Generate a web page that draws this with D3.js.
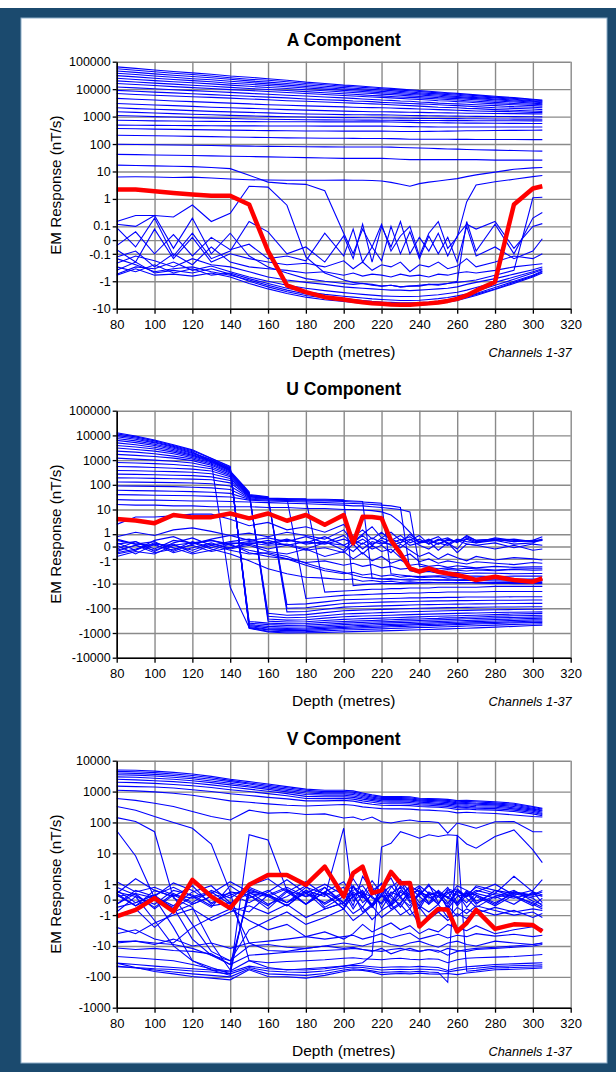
<!DOCTYPE html>
<html>
<head>
<meta charset="utf-8">
<script src="https://cdn.jsdelivr.net/npm/d3@7"></script>
<style>
  body { margin: 0; background: #fff; }
  svg { display: block; font-family: "Liberation Sans", Arial, sans-serif; }
</style>
</head>
<body>
<div id="chart"></div>
<script>
// Depth stations (metres), shared by all three components
const depths = [80,90,100,110,120,130,140, 150,160,170,180,190,200, 205,210,215,220,225,230,235,240,245, 250,255,260,265,270,280,290,300,305];
const xTicks = [80,100,120,140,160,180,200,220,240,260,280,300,320];

const aTicks = [100000,10000,1000,100,10,1,0.1,0,-0.1,-1,-10];
const uTicks = [100000,10000,1000,100,10,1,0,-1,-10,-100,-1000,-10000];
const vTicks = [10000,1000,100,10,1,0,-1,-10,-100,-1000];

// A component, channels 1-37 (nT/s)
const aChannels = [
  [65000,57000,50000,44000,39000,35000,30000, 27000,24000,21000,18000,16000,14000, 13500,12800,12000,11300,10700,10000,9400,8900,8400, 7900,7400,7000,6600,6200,5500,4900,4300,4000],
  [55000,49000,43000,38000,34000,30000,26000, 23000,21000,18500,16000,14500,12800, 12200,11600,11000,10400,9800,9200,8700,8200,7800, 7300,6900,6500,6100,5800,5100,4600,4100,3800],
  [46000,41000,36000,32000,29000,26000,23000, 20000,18000,16000,14200,12800,11400, 10800,10300,9800,9300,8800,8300,7900,7400,7000, 6700,6300,6000,5600,5300,4800,4300,3800,3600],
  [38000,34000,30000,27000,24000,22000,19500, 17500,15500,14000,12500,11200,10100, 9600,9200,8700,8300,7900,7500,7100,6700,6400, 6100,5700,5400,5100,4900,4400,4000,3600,3400],
  [31000,28000,25000,22500,20500,18500,16500, 15000,13500,12200,11000,10000,9000, 8600,8200,7800,7400,7100,6700,6400,6100,5800, 5500,5200,5000,4700,4500,4100,3700,3400,3200],
  [25000,22500,20500,18500,17000,15500,14000, 12700,11500,10500,9500,8700,7900, 7500,7200,6900,6600,6300,6000,5700,5400,5200, 4900,4700,4500,4300,4100,3700,3400,3100,2900],
  [20000,18200,16600,15200,13900,12700,11600, 10600,9700,8900,8100,7400,6800, 6500,6200,5900,5700,5400,5200,5000,4800,4600, 4400,4200,4000,3800,3600,3300,3000,2800,2700],
  [16000,14700,13500,12400,11400,10500,9600, 8900,8200,7500,6900,6400,5900, 5600,5400,5200,5000,4800,4600,4400,4200,4000, 3800,3700,3500,3400,3200,2900,2700,2500,2400],
  [12000,11100,10300,9500,8800,8200,7600, 7000,6500,6000,5600,5200,4800, 4600,4400,4200,4000,3900,3700,3600,3400,3300, 3100,3000,2900,2800,2700,2500,2300,2200,2100],
  [9000,8400,7800,7300,6800,6300,5900, 5500,5100,4800,4400,4100,3900, 3700,3600,3500,3300,3200,3100,3000,2900,2800, 2700,2600,2500,2400,2300,2100,2000,1900,1800],
  [6900,6400,6000,5600,5300,5000,4700, 4400,4100,3800,3600,3400,3200, 3100,3000,2900,2800,2700,2600,2500,2400,2300, 2200,2150,2100,2000,1950,1800,1700,1600,1550],
  [4600,4300,4000,3700,3500,3300,3100, 2900,2700,2600,2450,2350,2250, 2200,2150,2120,2100,2050,2000,1950,1900,1850, 1800,1750,1700,1650,1600,1550,1500,1420,1400],
  [3000,2800,2650,2500,2350,2200,2100, 2000,1900,1800,1720,1650,1580, 1550,1530,1510,1500,1480,1460,1440,1420,1400, 1380,1360,1350,1330,1320,1300,1280,1260,1250],
  [2100,1950,1850,1750,1650,1550,1480, 1420,1360,1300,1250,1210,1180, 1170,1160,1155,1150,1140,1120,1100,1080,1070, 1060,1050,1040,1030,1020,1010,1000,985,980],
  [1500,1420,1350,1280,1220,1160,1110, 1060,1020,990,960,940,920, 915,910,905,900,890,880,870,860,855, 850,845,840,835,830,820,810,805,800],
  [1100,1050,1000,960,920,880,850, 820,800,780,770,760,750, 748,745,742,740,735,730,725,720,718, 716,714,712,710,708,705,702,700,700],
  [740,720,700,690,680,670,660, 655,650,648,646,644,642, 641,640,640,640,635,625,615,605,600, 595,590,585,580,577,572,566,562,560],
  [490,485,480,475,470,465,460, 458,456,454,452,451,450, 450,450,450,450,445,438,430,425,422, 420,418,418,418,418,418,419,420,420],
  [370,360,350,342,335,328,320, 314,308,303,299,297,296, 295,295,295,295,292,288,286,288,290, 293,296,300,303,306,310,315,318,320],
  [210,205,200,195,190,186,180, 176,172,168,165,163,162, 161,160,160,160,158,154,150,150,150, 150,149,148,148,147,146,146,145,145],
  [98,96,94,92,90,88,86, 84,82,81,80,79,78, 78,78,78,78,77,75,73,72,70, 68,66,65,63,62,60,58,56,55],
  [42,41,40,39,38,37,36, 35,34,33,32,31,30, 30,30,30,30,29,28,27,27,27, 27,27,27,27,27,26,26,26,26],
  [17,16.5,16,15.5,15,14,12.7, 7.3,4.1,3.6,3.4,2.0,0.05, -0.1,0.08,-0.05,0.12,-0.08,0.03,0.1,-0.12,0.05, 0.15,-0.06,0.02,0.78,3.2,4.2,5.2,6.5,7.1],
  [6.3,6.4,6.3,6.0,6.2,5.8,5.3, 5.0,4.9,4.8,4.8,4.8,4.9, 4.8,4.8,4.7,4.5,4.0,3.4,2.9,3.6,4.1, 4.5,5.0,5.5,6.5,7.5,9.5,12,13.5,14],
  [2.2,2.2,1.9,1.65,1.45,1.3,1.3, 0.63,-0.08,-1.4,-2.5,-3.8,-4.6, -5.2,-5.8,-6.3,-6.6,-7.0,-7.2,-7.2,-6.8,-6.4, -5.9,-5.2,-4.4,-3.3,-2.2,-1.05,0.63,2.4,2.9],
  [0.15,0.25,0.25,0.22,0.6,0.15,0.3, 2.9,2.7,0.59,-0.13,-0.5,-0.9, -1.1,-1.2,-1.3,-1.5,-1.4,-1.6,-1.5,-1.5,-1.3, -1.4,-1.2,-1.1,-1.0,-0.9,-0.6,-0.4,1.1,1.15],
  [0.12,0.1,0.25,-0.06,0.2,-0.1,0.05, -0.12,-0.3,-0.5,-0.8,-1.0,-1.2, -1.3,-1.2,-1.4,-1.5,-1.4,-1.6,-1.5,-1.4,-1.3, -1.3,-1.2,-1.0,0.15,-0.08,0.12,-0.1,0.2,0.32],
  [0.09,-0.05,0.2,-0.12,0.05,-0.15,-0.08, 0.15,0.06,-0.1,-0.05,-0.2,0.03, -0.15,0.12,-0.2,0.1,-0.05,0.15,-0.1,0.02,-0.08, 0.05,-0.12,0.03,0.12,0.08,0.15,-0.06,0.1,0.126],
  [-0.04,0.06,-0.1,0.04,-0.12,0.02,-0.07, -0.03,-0.15,-0.12,-0.18,0.05,-0.12, 0.08,-0.2,-0.05,-0.18,0.1,-0.1,0.06,-0.15,0.03, -0.1,0.02,-0.2,0.1,-0.12,-0.05,-0.15,-0.08,0.01],
  [-0.07,-0.2,0.08,-0.15,0.02,-0.2,-0.1, -0.15,-0.2,-0.25,-0.22,-0.3,-0.18, -0.35,-0.2,-0.4,-0.25,-0.3,-0.2,-0.45,-0.25,-0.3, -0.2,-0.35,-0.28,-0.15,-0.3,-0.2,-0.12,-0.15,-0.1],
  [-0.13,-0.08,-0.3,-0.1,-0.25,-0.05,-0.2, -0.3,-0.35,-0.4,-0.5,-0.45,-0.6, -0.5,-0.65,-0.55,-0.6,-0.7,-0.55,-0.65,-0.6,-0.7, -0.55,-0.6,-0.5,-0.45,-0.5,-0.4,-0.3,-0.25,-0.23],
  [-0.22,-0.12,-0.18,-0.3,-0.15,-0.25,-0.3, -0.45,-0.7,-0.9,-1.1,-1.3,-1.6, -1.7,-1.8,-1.9,-2.0,-2.1,-2.1,-2.2,-2.1,-2.0, -1.9,-1.8,-1.6,-1.3,-1.1,-0.8,-0.55,-0.38,-0.3],
  [-0.56,-0.3,-0.35,-0.2,-0.4,-0.28,-0.45, -0.7,-1.0,-1.4,-1.8,-2.2,-2.6, -2.8,-3.0,-3.2,-3.4,-3.5,-3.6,-3.6,-3.5,-3.3, -3.1,-2.8,-2.5,-2.1,-1.7,-1.1,-0.7,-0.45,-0.35],
  [-0.3,-0.45,-0.25,-0.5,-0.35,-0.6,-0.5, -0.8,-1.2,-1.8,-2.4,-3.0,-3.5, -3.8,-4.1,-4.4,-4.6,-4.8,-5.0,-5.0,-4.9,-4.6, -4.3,-3.9,-3.4,-2.9,-2.3,-1.4,-0.85,-0.5,-0.38],
  [-0.15,-0.25,-0.45,-0.35,-0.3,-0.45,-0.6, -0.9,-1.4,-2.1,-2.9,-3.6,-4.3, -4.6,-5.0,-5.4,-5.7,-5.9,-6.1,-6.1,-6.0,-5.7, -5.3,-4.8,-4.2,-3.5,-2.8,-1.7,-1.0,-0.6,-0.42],
  [-0.4,-0.2,-0.5,-0.4,-0.5,-0.35,-0.55, -1.0,-1.6,-2.4,-3.3,-4.1,-4.9, -5.3,-5.7,-6.0,-6.3,-6.6,-6.8,-6.8,-6.6,-6.3, -5.8,-5.2,-4.6,-3.8,-3.0,-1.9,-1.1,-0.65,-0.45],
  [-0.6,-0.35,-0.6,-0.55,-0.65,-0.5,-0.7, -1.2,-1.9,-2.8,-3.8,-4.7,-5.5, -5.9,-6.3,-6.7,-7.0,-7.4,-7.6,-7.6,-7.4,-7.0, -6.5,-5.8,-5.0,-4.1,-3.3,-2.0,-1.2,-0.7,-0.5]
];

// U component, channels 1-37 (nT/s)
const uChannels = [
  [12800,9500,6500,4200,2600,1200,560, -650,-900,-1000,-980,-950,-900, -880,-860,-840,-820,-800,-780,-760,-740,-720, -700,-680,-660,-640,-620,-580,-540,-500,-480],
  [11500,8700,6000,3900,2400,1150,520, -620,-850,-900,-880,-820,-760, -740,-720,-700,-680,-660,-640,-620,-600,-590, -570,-560,-540,-520,-510,-480,-450,-430,-420],
  [10000,7800,5400,3600,2200,850,-14, -600,-750,-800,-780,-720,-660, -640,-620,-600,-580,-560,-550,-530,-520,-500, -490,-470,-460,-450,-430,-410,-390,-375,-370],
  [8800,7000,5000,3300,2000,1050,480, -550,-700,-720,-700,-650,-590, -570,-550,-530,-520,-500,-490,-470,-460,-450, -440,-420,-410,-400,-390,-370,-350,-335,-330],
  [7500,6000,4400,3000,1850,1000,450, -500,-620,-650,-630,-580,-530, -510,-490,-475,-460,-450,-440,-425,-410,-400, -390,-375,-365,-355,-345,-325,-310,-295,-290],
  [6300,5100,3900,2700,1700,950,420, -450,-540,-570,-560,-510,-460, -445,-430,-415,-400,-390,-380,-370,-360,-350, -340,-330,-320,-310,-300,-285,-270,-255,-250],
  [5000,4200,3300,2400,1550,900,400, -400,-460,-490,-480,-440,-400, -385,-370,-360,-350,-340,-330,-320,-310,-300, -295,-285,-275,-265,-260,-245,-235,-225,-220],
  [3900,3400,2800,2100,1400,850,380, -340,-400,-420,-410,-370,-340, -330,-320,-310,-300,-290,-280,-275,-270,-260, -255,-245,-240,-230,-225,-210,-200,-195,-190],
  [3100,2700,2300,1800,1250,780,360, 52,-330,-360,-350,-310,-280, -270,-262,-255,-250,-242,-235,-228,-222,-216, -210,-205,-200,-195,-190,-180,-170,-165,-160],
  [2300,2100,1800,1450,1100,700,330, 48,-270,-300,-290,-250,-220, -213,-206,-200,-195,-190,-185,-180,-176,-172, -168,-164,-160,-157,-154,-148,-144,-141,-140],
  [1700,1550,1400,1200,950,620,300, 45,-210,-240,-230,-200,-170, -165,-160,-155,-150,-146,-142,-138,-135,-132, -129,-126,-123,-121,-119,-115,-112,-110,-110],
  [1200,1100,1000,900,760,530,270, 42,-160,-190,-180,-150,-125, -121,-117,-114,-111,-108,-105,-102,-100,-98, -96,-94,-93,-92,-91,-89,-88,-87,-87],
  [800,760,720,660,580,450,240, 40,33,-140,-135,-110,-90, -87,-84,-82,-80,-78,-76,-74,-72,-71, -70,-69,-68,-67,-66,-65,-64,-63,-63],
  [550,530,500,470,430,360,210, 38,31,-100,-95,-78,-64, -62,-60,-58,-56,-55,-54,-53,-52,-51, -50,-50,-49,-49,-48,-47,-47,-46,-46],
  [380,370,355,340,320,280,180, 36,30,-70,-66,-55,-45, -44,-43,-42,-41,-40,-39,-38,-38,-37, -37,-36,-36,-35,-35,-35,-34,-34,-34],
  [270,265,255,245,235,210,150, 34,29,28,-40,-35,-30, -29,-28,-27,-26,-25,-25,-24,-24,-23, -23,-22,-22,-22,-22,-21,-21,-21,-21],
  [190,188,182,176,170,160,120, 32,28,27,27,-22,-20, -19,-18,-17,-17,-16,-16,-15,-15,-15, -14,-14,-14,-14,-14,-13,-13,-13,-13],
  [130,128,125,122,118,110,90, 30,28,27,26,26,25, -12,-11,-10.5,-10,-10,-10,-9.8,-9.6,-9.4, -9.3,-9.2,-9.1,-9,-9,-9,-9,-9,-9],
  [90,88,86,84,80,75,65, 28,26,25,24,24,23, 22,21,-6,-6.5,-7,-7,-7.2,-7,-6.8, -7,-7.2,-7,-6.9,-7,-7,-7,-7,-7],
  [60,58,57,55,53,50,45, 26,24,23,22,22,21, 20,20,19,18,-4,-4.5,-5,-5.2,-5, -4.8,-5,-5.3,-5,-5,-5.2,-5,-5,-5],
  [40,39,38,37,36,34,32, 24,22,21,20,19,18, 17.5,17,16,15,14,12,-3,-3.5,-3.2, -3.8,-3.5,-3.6,-3.9,-3.7,-3.8,-4,-3.9,-3.9],
  [25,24,24,23,22,22,21, 20,19,18,17,16,15, 14,14,13,12,11,10,8,-2,-2.2, -2.5,-2.3,-2.6,-2.4,-2.5,-2.8,-2.6,-2.5,-2.5],
  [16,15,15,14,14,13,13, 13,12,12,11,11,10, 10,9.5,9,8,6,3,1.2,0.3,0.5, 0.2,0.6,0.4,0.8,0.5,0.6,0.4,0.5,0.5],
  [4.1,3.6,2.8,6,4.8,4.9,6.9, 4.4,6.9,3.5,6,2.4,6, 0.26,5.1,5,4.4,0.5,-0.55,-2.4,-3.3,-2.4, -3.3,-3.9,-4.5,-5.5,-7.2,-5.3,-7.2,-8.4,-6.2],
  [2.5,5,5,5.5,6.5,6.5,4, 2.2,3,1.5,2,1.2,2.5, 0.8,1.5,0.6,1.2,0.5,0.9,0.3,0.6,0.2, 0.5,0.7,0.3,0.9,0.5,0.6,0.4,0.5,0.8],
  [0.8,1.2,0.9,1.5,1.8,1.3,0.9, 1.1,0.8,1.2,0.9,0.6,1.5, 0.4,1.0,2.0,0.7,1.2,0.5,0.8,0.3,0.6, 0.2,0.5,0.4,0.6,0.3,0.5,0.6,0.4,0.5],
  [0.3,-0.3,0.5,0.8,0.2,0.6,0.9, 0.5,0.7,0.4,0.8,0.3,0.9, 0.2,0.6,0.1,0.7,0.4,-0.1,0.5,0.9,0.2, 0.6,0.3,-0.2,0.7,0.4,0.5,0.2,0.3,0.6],
  [-0.2,0.4,-0.4,0.3,0.7,0.1,0.4, 0.6,0.2,0.5,0.3,0.8,0.1, 0.5,-0.2,0.4,0.2,0.6,0.3,1.0,0.4,0.5, 0.8,0.2,0.6,0.4,0.3,0.7,0.5,0.4,0.6],
  [0.5,0.2,0.1,-0.3,0.4,-0.1,0.3, 0.2,0.5,0.1,0.4,0.2,0.6, 0.3,0.9,0.2,0.5,0.1,0.3,0.6,0.1,-0.2, 0.3,0.1,0.5,0.2,0.1,0.3,-0.1,0.2,0.1],
  [-0.5,-0.2,0.2,0.1,0.3,0.5,0.2, 0.4,0.3,0.6,0.2,0.4,-0.3, 0.5,0.2,0.7,0.3,0.2,0.6,0.1,0.3,0.4, -0.3,0.3,-0.5,0.2,0.1,-0.2,0.1,-0.3,-0.2],
  [-0.8,-0.4,-0.6,0.1,-0.3,0.2,-0.1, 0.3,0.1,0.2,-0.2,0.3,0.1, -0.4,0.3,-0.2,0.1,-0.5,0.2,-0.3,-0.8,-0.5, -1.0,-0.6,-0.9,-1.2,-0.8,-1.1,-0.9,-1.0,-1.1],
  [-0.3,0.1,-0.5,-0.2,0.1,-0.4,-0.1, 0.2,-0.2,0.1,-0.3,-0.1,-0.5, 0.2,-0.6,0.1,-0.4,-0.2,-0.9,-0.6,-1.3,-1.0, -1.5,-1.2,-1.4,-1.6,-1.3,-1.5,-1.7,-1.4,-1.5],
  [0.1,-0.6,0.2,-0.5,-0.1,0.3,-0.2, 0.1,-0.4,-0.6,-0.2,-0.8,-0.4, -1.0,-0.5,-1.2,-0.8,-1.5,-1.1,-1.8,-1.6,-2.0, -1.8,-2.2,-1.9,-2.1,-2.3,-2.0,-2.2,-2.1,-2.1],
  [-0.6,-0.3,0.3,-0.1,-0.6,-0.3,0.2, -0.5,-0.8,-1.0,-1.4,-1.2,-1.8, -1.5,-2.0,-1.7,-2.3,-2.0,-2.6,-2.4,-2.8,-2.5, -3.0,-2.7,-2.9,-3.1,-2.8,-3.0,-2.7,-2.9,-2.8],
  [0.2,0.4,-0.2,0.5,0.3,-0.2,-0.6, -1.2,-2.5,-4,-5.5,-6,-7, -6.5,-8,-7.5,-8.5,-8,-9,-8.5,-9,-8.8, -9.2,-9,-9.5,-9.3,-9.6,-9.8,-10,-10,-10],
  [-0.4,0.1,-0.3,0.2,-0.5,0.1,-0.3, -0.6,-0.5,-0.8,-1.5,-2.5,-3.5, -4.5,-5.5,-6,-6.5,-6.2,-6.8,-6.5,-7,-6.8, -7.2,-7,-7.4,-7.2,-7.5,-7.8,-8,-8,-8],
  [0.6,0.2,0.4,-0.4,0.2,0.5,0.1, -0.3,-0.6,-1.0,-1.8,-3,-4, -3.5,-4.5,-4,-5,-4.5,-5.5,-5,-5.8,-5.5, -5.2,-6,-5.6,-5.8,-6,-6.2,-6.5,-6.5,-6.5]
];

// V component, channels 1-37 (nT/s)
const vChannels = [
  [5000,4900,4600,4200,3700,3100,2500, 2100,1750,1450,1200,1100,1100, 1050,900,780,700,690,690,680,610,600, 580,560,510,520,500,470,420,330,290],
  [4500,4400,4100,3700,3300,2800,2300, 1900,1600,1330,1100,1000,1000, 960,830,720,650,640,640,630,570,560, 540,520,470,480,460,430,390,310,270],
  [4000,3900,3600,3300,2900,2500,2100, 1750,1450,1200,1000,920,920, 880,760,660,600,590,590,580,530,520, 500,480,430,440,420,400,360,290,250],
  [3500,3400,3200,2900,2600,2200,1850, 1550,1300,1080,900,840,840, 800,690,610,560,550,550,540,490,480, 460,440,400,410,390,370,330,270,235],
  [3000,2900,2700,2500,2250,1950,1650, 1400,1180,980,800,760,760, 720,630,560,510,500,500,490,450,440, 420,400,365,375,355,340,300,250,215],
  [2500,2400,2250,2100,1900,1650,1400, 1200,1020,860,700,680,680, 650,570,510,460,455,455,445,410,400, 385,365,330,340,320,310,275,230,195],
  [2000,1950,1850,1700,1550,1350,1150, 1000,860,730,600,590,600, 570,500,450,410,405,405,395,370,360, 345,330,300,305,290,280,250,210,180],
  [1500,1450,1400,1300,1150,1000,850, 750,650,580,500,500,520, 490,430,390,360,355,355,350,330,320, 310,295,265,275,260,250,225,190,165],
  [1100,1050,980,880,760,620,500, 450,400,360,340,360,380, 360,320,300,280,275,275,270,255,250, 240,230,205,215,205,195,175,155,150],
  [600,520,420,330,225,155,120, 250,200,210,180,190,140, 150,120,150,105,96,110,120,107,107, 100,45,96,80,65,105,107,50,50],
  [330,250,155,100,65,20,0.5, -30,-50,-60,-55,-50,-45, -40,-35,-20,16,21,50,40,31,40, 35,40,38,20,14.6,35,57,13,5],
  [143,107,50,0.1,-0.5,-8,-60, 0.5,0.3,-0.2,0.8,0.4,-0.6, 0.9,0.2,-0.4,0.6,0.1,-0.3,0.7,-0.2,0.3, 0.5,-0.6,0.2,0.4,-0.3,0.6,0.2,-0.4,0.1],
  [54,8.2,0.1,-2.5,-30,-60,-90, 40,27,0.6,-0.3,0.5,-0.2, 0.8,0.3,-0.5,0.4,0.9,0.1,-0.4,0.5,0.2, -0.3,0.6,0.3,-0.2,0.4,0.1,0.5,0.3,0.6],
  [-36,-50,-67,-80,-98,-110,-125, -59,-98,-100,-110,-90,-67, -60,-62,-70,-85,-80,-78,-80,-76,-80, -82,-78,-85,-75,-70,-59,-57,-54,-52],
  [-45,-52,-60,-70,-80,-90,-100, -55,-80,-85,-90,-78,-60, -55,-58,-64,-72,-70,-68,-70,-66,-70, -72,-150,40,-66,-62,-52,-50,-48,-47],
  [-47,-50,-55,-58,-65,-70,-80, -50,-65,-70,-72,-65,-52, -48,-50,-55,-60,-58,-57,-58,-56,-58, -60,-70,-62,-56,-53,-46,-44,-42,-41],
  [-36,-40,-45,-50,-55,-60,-70, -45,-55,-58,-60,-55,-45, -42,-44,-47,-50,-48,-47,-48,-46,-48, -50,-62,-52,-47,-45,-40,-38,-36,-35],
  [-22,-24,-27,-30,-40,-55,-65, -30,-35,-32,-30,-28,-25, -24,-26,-27,-28,-26,-25,-27,-28,-26, -27,-35,-28,-25,-24,-23,-22,-20,-19],
  [-11.7,-13,-12,-14,-15,-18,-40, -20,-18,-16,-15,-14,-13, -12,-13,-14,-15,-13,-12,-14,-15,-13, -14,-20,-15,-13,-12,-11,-10,-9,-8],
  [-7.2,-7,-8,-9,-12,-20,-30, -10,-9,-11,-12,-10,-8, -9,-10,-8,-7,-9,-10,-8,-7,-9, -11,-8,-7,-9,-10,-7,-8,-9,-8],
  [-1.1,-0.66,0.1,-0.77,1.38,0.2,-0.55, 0.96,2.0,2.0,0.96,3.7,0.2, 2.3,3.7,0.42,0.6,2.5,1.07,1.1,-2.35,-1.2, -0.6,-0.66,-3.4,-1.8,-0.66,-2.8,-2.0,-2.1,-3.4],
  [0.8,0.3,-0.5,0.4,-0.2,0.6,0.1, 0.9,1.5,0.5,1.2,0.3,0.8, -0.4,1.8,0.6,1.0,0.2,1.3,0.5,0.9,0.4, -0.3,0.7,0.5,0.2,0.9,0.6,0.4,0.3,0.5],
  [0.4,1.5,0.6,0.2,0.9,-0.3,0.5, 0.3,-0.4,0.6,0.2,0.8,-0.2, 0.5,0.1,0.9,-0.6,0.4,0.8,-0.2,0.3,0.9, 0.4,-0.5,0.6,0.2,0.5,1.0,0.3,0.6,1.4],
  [-0.3,0.6,0.2,-0.4,0.5,0.9,-0.2, 0.4,0.2,0.7,-0.3,0.5,1.2, 0.2,-0.5,0.4,1.1,-0.3,0.6,0.2,-0.4,0.5, 0.2,0.8,-0.2,0.4,0.3,-0.3,0.5,0.2,0.3],
  [0.6,-0.2,0.3,0.8,0.2,-0.5,0.9, 0.1,0.6,-0.2,0.4,1.0,0.3, 1.5,0.4,-0.3,0.7,1.6,0.2,0.9,0.5,-0.2, 0.6,0.1,0.9,0.6,-0.1,0.4,1.8,0.5,-0.2],
  [0.2,0.4,-0.6,0.3,0.1,0.4,1.2, 0.5,-0.3,0.2,0.9,-0.5,0.2, 0.6,0.9,0.1,-0.2,0.8,1.4,-0.1,0.3,1.0, -0.2,0.4,0.7,0.2,0.6,0.3,0.1,0.4,0.2],
  [-0.5,-0.2,0.3,-0.6,0.2,0.5,-0.3, 0.6,0.3,0.8,0.2,0.4,-0.6, 0.3,0.5,-0.4,0.2,0.3,-0.5,0.4,0.6,0.1, 0.3,0.2,-0.3,0.5,-0.2,0.2,0.6,-0.1,-0.3],
  [1.2,0.5,0.8,0.3,-0.3,0.2,0.4, -0.2,0.5,1.4,0.4,-0.2,0.5, -0.6,0.3,1.3,0.4,-0.4,0.5,0.1,0.8,-0.3, 0.2,0.5,-0.4,0.3,0.8,0.4,0.2,-0.2,-0.5],
  [0.3,-0.4,0.2,1.1,0.6,-0.2,0.3, 0.7,0.2,-0.4,0.6,0.2,65, -0.1,0.4,0.2,-0.3,0.5,0.2,-0.6,0.4,0.3, 0.5,-0.2,0.4,-0.5,0.2,-0.4,0.3,-0.3,-0.6],
  [-1.0,-0.6,-2.5,-0.8,-0.3,0.2,-0.5, -0.8,0.3,-0.4,0.5,-0.6,-0.2, 0.4,-0.8,-0.3,0.3,-0.6,-0.2,0.5,-0.4,-0.8, -0.3,-1.2,-0.5,-0.9,-0.4,-0.7,-1.0,-0.8,-1.2],
  [-2.5,-4,-1.8,-1.0,-0.6,-1.5,-0.8, -0.4,-0.9,-0.3,-1.2,-0.6,-0.2, -0.9,-0.5,-1.4,-0.7,-0.3,-1.0,-0.6,-2.0,-1.2, -0.8,-1.5,-0.9,-1.3,-0.6,-1.0,-0.7,-1.2,-0.9],
  [-4,-3,-6,-8,-2.5,-1.2,-0.6, -1.5,-3,-2,-5,-3.5,-6, -4,-2,-3.5,-2.5,-1.8,-3,-2.2,-4,-2.8, -3.5,-2,-2.6,-3.2,-2.2,-4,-3,-2.4,-2.8],
  [-8,-7,-9,-6,-10,-8,-12, -8,-7,-6,-5,-6,-5, -4.5,-6,-5,-4,-5.5,-4.5,-3.8,-6,-5, -4.2,-5.5,-4.5,-5,-4,-4.8,-4.2,-5,-4.5],
  [0.5,0.2,-1.5,-10,-30,-50,-80, 0.8,0.3,-0.2,0.6,-0.3,0.4, 0.9,-0.2,0.3,0.6,-0.4,0.2,0.8,0.2,-0.3, 0.5,0.1,-0.2,0.6,0.3,-0.2,0.4,0.1,-0.4],
  [-0.3,0.4,0.1,-0.5,-6,-20,-40, 0.3,-0.6,0.5,-0.3,0.8,-0.4, 0.2,0.6,-0.5,0.3,-0.2,0.9,0.3,-0.6,0.4, 0.2,-0.3,0.6,0.1,-0.5,0.2,-0.3,0.5,0.3],
  [0.4,-0.4,0.6,0.2,-2,-15,-30, -3,-1.5,-0.8,-2,-1.2,-0.6, -1.5,-0.9,-0.4,-1.2,-0.7,-0.3,-1.0,-0.5,-1.4, -0.8,-0.4,-1.1,-0.6,-0.9,-0.5,-0.8,-0.6,-0.7],
  [-0.8,0.2,-0.3,0.6,0.3,-0.4,-0.2, -8,-14,-15,-12,-10,-12, -11,-13,-15,-12,-18,-14,-12,-15,-13, -16,-12,-14,-15,-13,-12,-11,-10,-9]
];

// highlighted (red) channel index in each component
const aHighlight = 24;
const uHighlight = 23;
const vHighlight = 20;

class EMComponentChart {
    constructor(_config, _channels) {
        this.config = {
            parentElement: _config.parentElement,
            top: _config.top,
            title: _config.title,
            threshold: _config.threshold,
            yTicks: _config.yTicks,
            highlight: _config.highlight,
            left: 116.7,
            width: 454,
            height: 247
        };
        this.channels = _channels;
        this.initVis();
    }

    initVis() {
        let vis = this;
        const t = vis.config.threshold;
        // log-style axis with a linear band of half a decade either side of zero
        vis.tf = v => Math.abs(v) < t ? 0.5 * v / t : Math.sign(v) * (0.5 + Math.log10(Math.abs(v) / t));

        vis.width = vis.config.width;
        vis.height = vis.config.height;

        vis.svg = vis.config.parentElement.append('g')
            .attr('transform', `translate(${vis.config.left},${vis.config.top})`);

        const yt = vis.config.yTicks;
        vis.xScale = d3.scaleLinear().domain([80, 320]).range([0, vis.width]);
        vis.yScale = d3.scaleLinear()
            .domain([vis.tf(yt[yt.length - 1]), vis.tf(yt[0])])
            .range([vis.height, 0]);

        const labelOf = new Map(yt.map(v => [vis.tf(v), String(v)]));

        // grid
        vis.svg.append('g')
            .call(d3.axisLeft(vis.yScale).tickValues(yt.map(vis.tf)).tickSize(-vis.width).tickFormat(''))
            .call(g => g.select('.domain').remove())
            .selectAll('line').attr('stroke', '#8a8a8a').attr('stroke-width', 1.4);
        vis.svg.append('g')
            .attr('transform', `translate(0,${vis.height})`)
            .call(d3.axisBottom(vis.xScale).tickValues(xTicks).tickSize(vis.height).tickFormat(''))
            .call(g => g.select('.domain').remove())
            .selectAll('line').attr('stroke', '#8a8a8a').attr('stroke-width', 1.4)
            .attr('y2', -vis.height);

        // lines
        const line = d3.line()
            .x((d, i) => vis.xScale(depths[i]))
            .y(d => vis.yScale(vis.tf(d)));

        vis.svg.append('g').selectAll('.ch')
            .data(vis.channels.filter((c, i) => i !== vis.config.highlight))
            .join('path')
            .attr('class', 'ch')
            .attr('d', line)
            .attr('fill', 'none')
            .attr('stroke', '#0000ff')
            .attr('stroke-width', 1.1);

        vis.svg.append('path')
            .attr('d', line(vis.channels[vis.config.highlight]))
            .attr('fill', 'none')
            .attr('stroke', '#ff0000')
            .attr('stroke-width', 4.5)
            .attr('stroke-linejoin', 'round');

        // axes
        const yAxis = vis.svg.append('g')
            .call(d3.axisLeft(vis.yScale).tickValues(yt.map(vis.tf)).tickSize(4).tickSizeOuter(0).tickPadding(2)
                .tickFormat(d => labelOf.get(d)));
        const xAxis = vis.svg.append('g')
            .attr('transform', `translate(0,${vis.height})`)
            .call(d3.axisBottom(vis.xScale).tickValues(xTicks).tickSize(5).tickSizeOuter(0).tickPadding(6));

        [yAxis, xAxis].forEach(ax => {
            ax.attr('font-family', null).attr('font-size', null);
            ax.select('.domain').attr('stroke', '#000').attr('stroke-width', 1.6);
            ax.selectAll('.tick line').attr('stroke', '#000').attr('stroke-width', 1.3);
            ax.selectAll('text').attr('fill', '#000').style('font-size', '13px');
        });
        yAxis.selectAll('text').style('font-size', '12.5px');

        // labels either side of zero sit close together: spread them a little
        const gap = Math.abs(vis.yScale(0) - vis.yScale(0.5));
        const shift = Math.max(0, 14.5 - gap);
        yAxis.selectAll('.tick text')
            .attr('y', d => Math.abs(Math.abs(d) - 0.5) < 1e-9 ? (d > 0 ? -shift : shift) : 0);

        // titles
        vis.svg.append('text')
            .attr('x', vis.width / 2)
            .attr('y', -15.5)
            .attr('text-anchor', 'middle')
            .style('font-size', '17.5px')
            .style('font-weight', 'bold')
            .text(vis.config.title);

        vis.svg.append('text')
            .attr('x', vis.width / 2)
            .attr('y', vis.height + 48.5)
            .attr('text-anchor', 'middle')
            .style('font-size', '15.5px')
            .text('Depth (metres)');

        vis.svg.append('text')
            .attr('x', vis.width + 1)
            .attr('y', vis.height + 48.5)
            .attr('text-anchor', 'end')
            .style('font-size', '12.8px')
            .style('font-style', 'italic')
            .text('Channels 1-37');

        vis.svg.append('text')
            .attr('transform', `translate(${61 - vis.config.left},${vis.height / 2}) rotate(-90)`)
            .attr('text-anchor', 'middle')
            .style('font-size', '15.2px')
            .text('EM Response (nT/s)');
    }
}

const W = 616, H = 1072;
const svg = d3.select('#chart').append('svg').attr('width', W).attr('height', H);

// page frame
svg.append('rect').attr('x', 0).attr('y', 0).attr('width', W).attr('height', H).attr('fill', '#fff');
svg.append('rect').attr('x', 0).attr('y', 8).attr('width', W).attr('height', H - 8).attr('fill', '#1b4a6e');
svg.append('rect').attr('x', 21).attr('y', 18).attr('width', 586).attr('height', 1045)
    .attr('fill', '#fff').attr('stroke', '#8eadc8').attr('stroke-width', 1);

new EMComponentChart({ parentElement: svg, top: 61.7, title: 'A Component', threshold: 0.1, yTicks: aTicks, highlight: aHighlight }, aChannels);
new EMComponentChart({ parentElement: svg, top: 410.7, title: 'U Component', threshold: 1, yTicks: uTicks, highlight: uHighlight }, uChannels);
new EMComponentChart({ parentElement: svg, top: 760.7, title: 'V Component', threshold: 1, yTicks: vTicks, highlight: vHighlight }, vChannels);
</script>
</body>
</html>
